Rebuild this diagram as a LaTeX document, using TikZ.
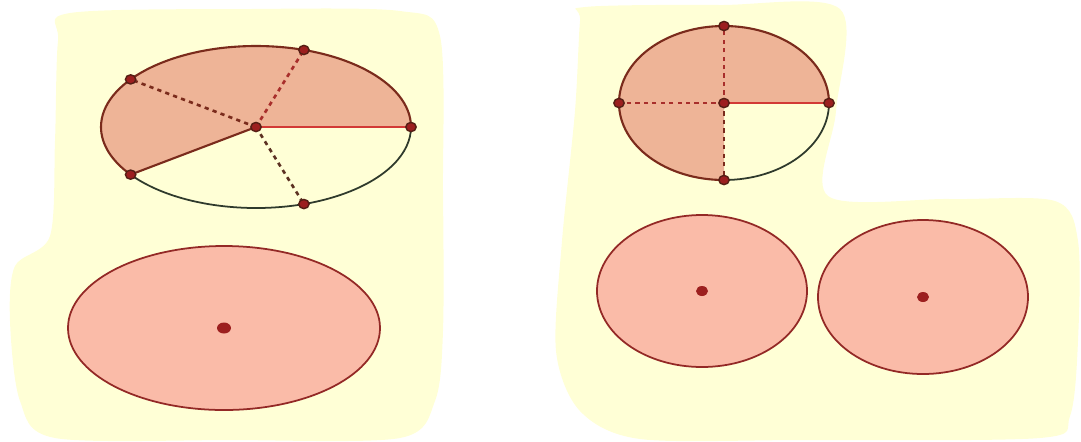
\documentclass[tikz,border=0pt]{standalone}
\usepackage{tikz}
\definecolor{bgyel}{HTML}{FFFFD6}
\definecolor{secfill}{HTML}{EEB497}
\definecolor{cirfill}{HTML}{FABBA8}
\definecolor{rimdark}{HTML}{7A2B1C}
\definecolor{rimgreen}{HTML}{2F3A2C}
\definecolor{segred}{HTML}{D23A36}
\definecolor{ptred}{HTML}{9C1F1F}
\tikzset{
  rim/.style={draw=rimdark, line width=0.6pt},
  rimopen/.style={draw=rimgreen, line width=0.5pt},
  cutline/.style={segred, line width=0.6pt},
  cutdash/.style={segred!80!black, line width=0.75pt, dash pattern=on 1.2pt off 1.2pt},
  cutdark/.style={rimdark, line width=0.75pt, dash pattern=on 1.2pt off 1.2pt},
  wholedisc/.style={fill=cirfill, draw=segred!70!black, line width=0.5pt}
}
\newcommand{\gpoint}[1]{\fill[ptred] (#1) ellipse[x radius=5.2, y radius=4.6];
  \draw[rimdark!70!black, line width=0.4pt] (#1) ellipse[x radius=5.2, y radius=4.6];}
\begin{document}
\begin{tikzpicture}[x=0.01cm, y=0.01cm, line width=0.6pt]
  \useasboundingbox (0,0) rectangle (1081,441);
  % yellow backgrounds
  \fill[bgyel] plot[smooth cycle, tension=0.5] coordinates {(70,428) (250,432) (400,430) (440,405)
    (443,250) (443,110) (435,40) (400,3) (230,1) (55,3) (20,40) (10,120) (15,175) (50,205)
    (55,300) (58,400)};
  \fill[bgyel] plot[smooth cycle, tension=0.5] coordinates {(585,434) (720,436) (840,432) (836,330)
    (828,245) (950,242) (1055,240) (1078,200) (1078,100) (1070,25) (1040,3) (800,1) (640,2)
    (580,30) (556,90) (562,200) (575,330) (580,420)};

  % pie in fifths: 3/5 shaded
  \coordinate (O1) at (256,314);
  \path (O1) ++(0:155 and 81) coordinate (F0);
  \path (O1) ++(72:155 and 81) coordinate (F1);
  \path (O1) ++(144:155 and 81) coordinate (F2);
  \path (O1) ++(216:155 and 81) coordinate (F3);
  \path (O1) ++(288:155 and 81) coordinate (F4);
  \fill[secfill] (O1) -- (F0) arc[start angle=0, end angle=216, x radius=155, y radius=81] -- cycle;
  \draw[rim] (F0) arc[start angle=0, end angle=216, x radius=155, y radius=81];
  \draw[rimopen] (F3) arc[start angle=216, end angle=360, x radius=155, y radius=81];
  \draw[cutline] (O1) -- (F0);
  \draw[rim] (O1) -- (F3);
  \draw[cutdash] (O1) -- (F1);
  \draw[cutdark] (O1) -- (F2);
  \draw[cutdark, draw=rimdark!60!rimgreen] (O1) -- (F4);
  \foreach \p in {O1,F0,F1,F2,F3,F4} {\gpoint{\p}}

  % whole disc under it
  \coordinate (W1) at (224,113);
  \draw[wholedisc] (W1) ellipse[x radius=156, y radius=82];
  \fill[ptred] (W1) ellipse[x radius=7, y radius=5.5];

  % pie in quarters: 3/4 shaded
  \coordinate (O2) at (724,338);
  \path (O2) ++(0:105 and 77) coordinate (Q0);
  \path (O2) ++(90:105 and 77) coordinate (Q1);
  \path (O2) ++(180:105 and 77) coordinate (Q2);
  \path (O2) ++(270:105 and 77) coordinate (Q3);
  \fill[secfill] (O2) -- (Q0) arc[start angle=0, end angle=270, x radius=105, y radius=77] -- cycle;
  \draw[rim] (Q0) arc[start angle=0, end angle=270, x radius=105, y radius=77];
  \draw[rimopen] (Q3) arc[start angle=270, end angle=360, x radius=105, y radius=77];
  \draw[cutline] (O2) -- (Q0);
  \draw[cutdash] (O2) -- (Q1);
  \draw[cutdash] (O2) -- (Q2);
  \draw[cutdark] (O2) -- (Q3);
  \foreach \p in {O2,Q0,Q1,Q2,Q3} {\gpoint{\p}}

  % two whole discs
  \coordinate (W2) at (702,150);
  \coordinate (W3) at (923,144);
  \draw[wholedisc] (W2) ellipse[x radius=105, y radius=76];
  \draw[wholedisc] (W3) ellipse[x radius=105, y radius=77];
  \fill[ptred] (W2) ellipse[x radius=6, y radius=5];
  \fill[ptred] (W3) ellipse[x radius=6, y radius=5];
\end{tikzpicture}
\end{document}
